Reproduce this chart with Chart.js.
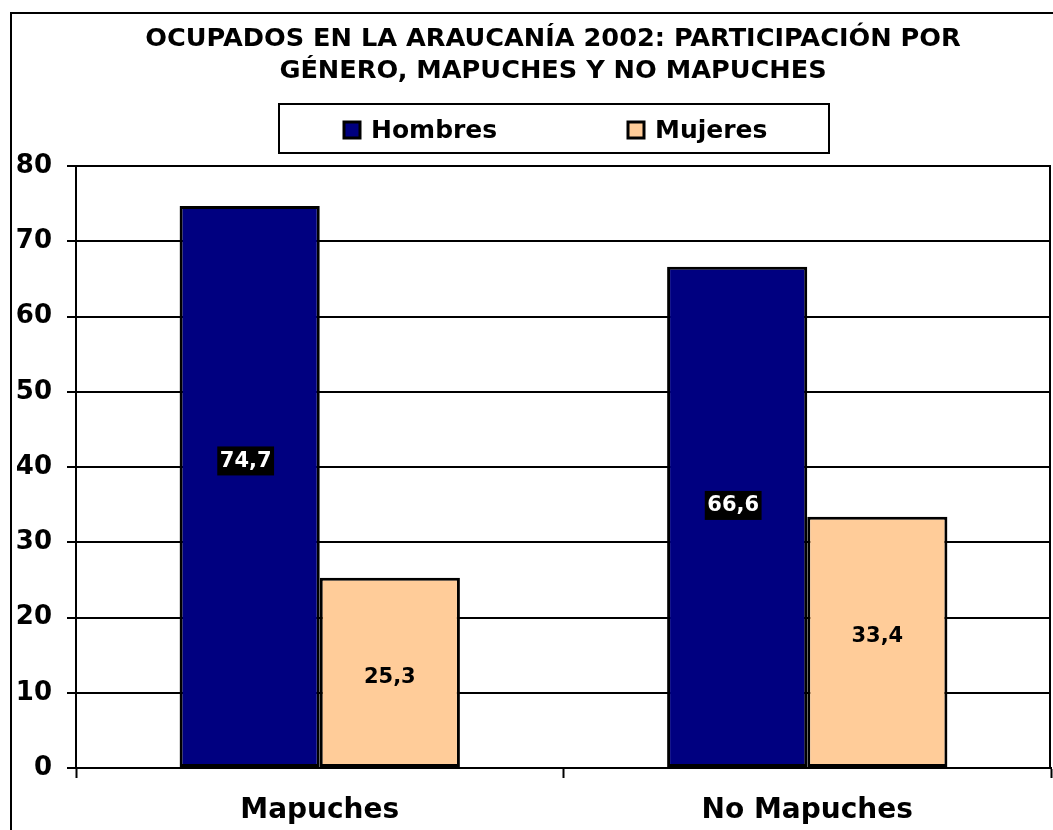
<!DOCTYPE html>
<html>
<head>
<meta charset="utf-8">
<title>Ocupados en La Araucanía 2002</title>
<script src="https://cdn.jsdelivr.net/npm/chart.js@4.4.1/dist/chart.umd.min.js"></script>
<style>
  html, body { margin: 0; padding: 0; background: #fff; }
  #wrap { width: 1053px; height: 830px; position: relative; }
</style>
</head>
<body>
<div id="wrap"><canvas id="chart"></canvas></div>
<script>
// Data
const titleLines = ["OCUPADOS EN LA ARAUCANÍA 2002: PARTICIPACIÓN POR", "GÉNERO, MAPUCHES Y NO MAPUCHES"];
const categories = ["Mapuches", "No Mapuches"];
const seriesNames = ["Hombres", "Mujeres"];
const hombres = [74.7, 66.6];
const mujeres = [25.3, 33.4];
const yTicks = [0, 10, 20, 30, 40, 50, 60, 70, 80];

const FONT = "'DejaVu Sans', Verdana, sans-serif";
Chart.defaults.color = "#000";
Chart.defaults.font.family = FONT;

function fmt(v) {
  return v.toFixed(1).replace(".", ",");
}

// outer frame of the chart object
const framePlugin = {
  id: "frame",
  afterLayout(chart) {
    // title sits a bit right of the canvas centre, over the legend box
    const t = chart.titleBlock;
    if (t) { t.left += 19; t.right += 19; }
  },
  beforeDraw(chart) {
    const ctx = chart.ctx;
    ctx.save();
    ctx.fillStyle = "#fff";
    ctx.fillRect(0, 0, chart.width, chart.height);
    ctx.strokeStyle = "#000";
    ctx.lineWidth = 2;
    ctx.strokeRect(11, 13, chart.width + 20, chart.height + 20);
    ctx.restore();
  },
  afterDatasetsDraw(chart) {
    // right edge of the plot area
    const { ctx, chartArea } = chart;
    ctx.save();
    ctx.strokeStyle = "#000";
    ctx.lineWidth = 2;
    ctx.beginPath();
    ctx.moveTo(chartArea.right - 1, chartArea.top);
    ctx.lineTo(chartArea.right - 1, chartArea.bottom);
    ctx.stroke();
    ctx.restore();
  }
};

// boxed legend below the title
const boxLegendPlugin = {
  id: "boxLegend",
  afterDraw(chart) {
    const ctx = chart.ctx;
    const itemX = [344, 628];
    const cy = 130;
    ctx.save();
    ctx.strokeStyle = "#000";
    ctx.lineWidth = 2;
    ctx.strokeRect(279, 104, 550, 49);
    ctx.font = "bold 25px " + FONT;
    ctx.textBaseline = "middle";
    chart.data.datasets.forEach((ds, i) => {
      ctx.fillStyle = ds.backgroundColor;
      ctx.fillRect(itemX[i], cy - 8, 16, 16);
      ctx.lineWidth = 3;
      ctx.strokeRect(itemX[i], cy - 8, 16, 16);
      ctx.fillStyle = "#000";
      ctx.fillText(ds.label, itemX[i] + 27, cy + 1);
    });
    ctx.restore();
  }
};

// value labels inside the bars
const valueLabelPlugin = {
  id: "valueLabels",
  afterDatasetsDraw(chart, args, opts) {
    const ctx = chart.ctx;
    ctx.save();
    ctx.font = "bold 21px " + FONT;
    ctx.textAlign = "center";
    ctx.textBaseline = "middle";
    chart.data.datasets.forEach((ds, i) => {
      chart.getDatasetMeta(i).data.forEach((bar, j) => {
        const txt = fmt(ds.data[j]);
        const x = bar.x - (opts.shiftX[i] || 0);
        const y = (bar.y + bar.base) / 2 + opts.shiftY[i][j];
        if (opts.boxed[i]) {
          const w = ctx.measureText(txt).width + 5;
          ctx.fillStyle = "#000";
          ctx.fillRect(x - w / 2, y - 14, w, 29);
          ctx.fillStyle = "#fff";
        } else {
          ctx.fillStyle = "#000";
        }
        ctx.fillText(txt, x, y + 1);
      });
    });
    ctx.restore();
  }
};

new Chart(document.getElementById("chart"), {
  type: "bar",
  data: {
    labels: categories,
    datasets: [
      {
        label: seriesNames[0],
        data: hombres,
        backgroundColor: "#000080",
        borderColor: "#000",
        borderWidth: 3,
        borderSkipped: false
      },
      {
        label: seriesNames[1],
        data: mujeres,
        backgroundColor: "#FFCC99",
        borderColor: "#000",
        borderWidth: 3,
        borderSkipped: false
      }
    ]
  },
  options: {
    responsive: true,
    maintainAspectRatio: false,
    animation: false,
    datasets: {
      bar: { categoryPercentage: 0.575, barPercentage: 1 }
    },
    layout: { padding: { left: 17, right: 2, top: 0, bottom: 0 } },
    plugins: {
      legend: { display: false },
      tooltip: { enabled: false },
      title: {
        display: true,
        text: titleLines,
        color: "#000",
        font: { size: 25.6, weight: "bold", lineHeight: 1.27 },
        padding: { top: 23, bottom: 78 }
      },
      valueLabels: {
        boxed: [true, false],
        shiftX: [4, 0],
        shiftY: [[-26, -12], [4, -6]]
      }
    },
    scales: {
      x: {
        offset: true,
        grid: {
          offset: true,
          drawOnChartArea: false,
          drawTicks: true,
          tickLength: 10,
          tickColor: "#000",
          tickWidth: 2
        },
        border: { color: "#000", width: 2 },
        ticks: {
          color: "#000",
          padding: 16,
          font: { size: 28, weight: "bold" }
        },
        afterFit(scale) { scale.height = 62; }
      },
      y: {
        min: yTicks[0],
        max: yTicks[yTicks.length - 1],
        afterBuildTicks(scale) {
          scale.ticks = yTicks.map(v => ({ value: v }));
        },
        grid: {
          color: "#000",
          lineWidth: 2,
          tickLength: 9,
          tickColor: "#000",
          tickWidth: 2
        },
        border: { color: "#000", width: 2 },
        ticks: {
          color: "#000",
          padding: 15,
          font: { size: 26, weight: "bold" }
        },
        afterFit(scale) { scale.width = 59; }
      }
    }
  },
  plugins: [framePlugin, valueLabelPlugin, boxLegendPlugin]
});
</script>
</body>
</html>
